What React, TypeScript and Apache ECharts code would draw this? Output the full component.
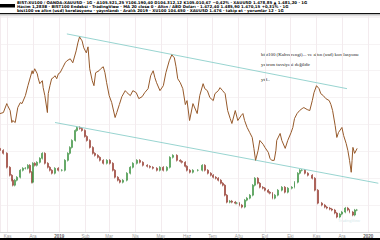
import React, { useEffect, useRef } from "react";
import * as echarts from "echarts";

// Day offsets from 2018-10-23 and values (arbitrary units)
const brownSeries: [number, number][] = [
  [0,119],[4,120],[8,129],[9,127],[12,122],[14,110],[15,112],[18,110],[21,125],[24,130],[26,129],[30,137],
  [33,147],[38,162],[39,159],[41,164],[44,159],[45,155],[47,149],[50,152],[51,145],[53,137],[56,120],[57,139],
  [59,147],[61,154],[63,155],[65,157],[67,154],[69,159],[71,160],[74,165],[77,170],[79,172],[83,174],[86,170],
  [90,182],[92,190],[94,196],[97,192],[99,185],[102,180],[104,186],[106,164],[109,152],[111,147],[113,160],
  [117,162],[119,164],[122,166],[124,160],[126,150],[129,137],[132,130],[136,115],[138,120],[141,128],[144,136],
  [148,142],[150,140],[154,137],[157,142],[161,140],[164,134],[168,136],[171,140],[175,144],[178,157],[181,162],
  [183,155],[185,150],[189,142],[193,147],[196,160],[200,172],[203,178],[206,175],[208,166],[210,154],[213,150],
  [216,144],[219,128],[221,132],[224,112],[228,129],[233,119],[236,137],[240,149],[242,144],[245,142],[248,135],
  [252,132],[254,139],[258,142],[260,145],[263,142],[266,139],[269,122],[272,114],[274,109],[278,122],[281,112],
  [285,117],[287,119],[289,112],[292,105],[295,100],[298,95],[300,84],[302,72],[305,82],[307,92],[311,88],
  [313,85],[317,80],[319,74],[321,72],[324,72],[326,82],[327,92],[331,99],[333,92],[337,84],[340,92],[344,100],
  [346,105],[348,114],[351,119],[354,122],[357,124],[359,125],[363,123],[366,122],[369,132],[371,140],[374,147],
  [377,144],[379,139],[382,137],[385,134],[389,132],[391,128],[393,122],[396,107],[398,95],[400,100],[404,105],
  [406,97],[409,89],[411,82],[413,72],[415,60],[416,72],[417,85],[419,79],[422,84]
];

// Lower series: [day, close]
const candleCloses: [number, number][] = [
  [0,82],[4,79],[8,65],[12,57],[14,52],[15,47],[18,52],[20,55],[24,62],[27,64],[30,64],[33,67],[35,60],[38,50],
  [39,69],[41,67],[44,70],[47,74],[50,79],[53,69],[57,65],[59,62],[61,59],[65,64],[69,62],[73,62],[77,72],[80,79],
  [83,85],[85,92],[89,102],[91,105],[94,104],[97,102],[100,96],[103,92],[106,85],[110,79],[112,77],[116,75],
  [118,72],[122,69],[126,72],[130,69],[133,62],[136,55],[139,52],[142,50],[145,52],[150,59],[154,65],[157,69],
  [162,72],[165,70],[169,67],[174,66],[177,65],[181,64],[185,62],[189,65],[193,62],[197,65],[201,75],[204,77],
  [209,72],[213,71],[215,70],[219,66],[221,62],[224,60],[228,62],[234,62],[239,67],[242,62],[246,59],[249,57],
  [252,55],[255,54],[258,52],[261,49],[263,47],[266,37],[268,30],[272,31],[274,30],[278,29],[280,29],[283,27],
  [286,25],[289,32],[292,34],[295,37],[299,47],[301,54],[305,49],[307,45],[311,44],[313,42],[317,40],[319,39],
  [322,34],[325,37],[328,42],[333,45],[337,40],[340,44],[345,45],[348,50],[352,59],[354,62],[357,62],[360,59],
  [364,57],[369,54],[372,42],[376,29],[380,27],[384,25],[386,24],[390,23],[392,22],[396,19],[398,15],[402,18],
  [404,20],[408,24],[411,22],[413,20],[417,17],[419,22],[422,22]
];

const upperTrend: [number, number][] = [[79, 199], [410, 144]];
const lowerTrend: [number, number][] = [[65, 110], [447, 49]];

const trMonths = ["Oca", "Şub", "Mar", "Nis", "May", "Haz", "Tem", "Ağu", "Eyl", "Eki", "Kas", "Ara"];

const noteLines = [
  "bist100 (Kahverengi)... ve altın (usd) korelasyonu",
  "yatırım tavsiyesi değildir",
  "ytd..",
];

const headerLines = [
  "BIST:XU100 / OANDA:XAUUSD · 1G · A105.521,25 Y106.190,40 D104.312,12 K105.010,67 −0,42% · XAUUSD 1.478,85 ▲ 1.481,20 · 1G",
  "Hacim 1,283B · BIST100 Endeksi · TradingView · MA 20 close 0 · Altın / ABD Doları · 1.472,40 1.485,90 1.470,15 +0,31% · 1G",
  "bist100 ve altın (usd) korelasyonu · yayınlandı · Aralık 2019 · XU100 104.650 · XAUUSD 1.476 · takip et · yorumlar 12 · 1G",
];

const START = new Date(2018, 9, 23).getTime();
const DAY = 86400000;
const SPAN_DAYS = 449;

export default function App() {
  const ref = useRef<HTMLDivElement>(null);

  useEffect(() => {
    if (!ref.current) return;
    const chart = echarts.init(ref.current, null, { renderer: "svg" });

    const toT = (d: number) => START + d * DAY;

    const candles = candleCloses.map(([d, c], i) => {
      const o = i === 0 ? c + 2 : candleCloses[i - 1][1];
      const lo = Math.min(o, c) - 1.2;
      const hi = Math.max(o, c) + 1.2;
      return [toT(d), o, c, lo, hi];
    });

    const option: any = {
      animation: false,
      backgroundColor: "#ffffff",
      grid: { left: 0, right: 0, top: 16, bottom: 8 },
      xAxis: {
        type: "time",
        min: START,
        max: toT(SPAN_DAYS),
        splitNumber: 15,
        axisLine: { show: true, lineStyle: { color: "#d4d4d4", width: 1 } },
        axisTick: { show: false },
        axisLabel: {
          fontSize: 4.5,
          color: "#9a9a9a",
          margin: 2,
          showMinLabel: false,
          showMaxLabel: false,
          hideOverlap: false,
          fontFamily: "Liberation Sans",
          formatter: (v: number) => {
            const d = new Date(v);
            if (d.getMonth() === 0) return "{y|" + d.getFullYear() + "}";
            return trMonths[d.getMonth()];
          },
          rich: { y: { fontSize: 4.5, fontWeight: "bold", color: "#666" } },
        },
        splitLine: { show: true, lineStyle: { color: "#f3ebee", width: 1 } },
      },
      yAxis: {
        type: "value",
        min: 0,
        max: 217,
        interval: 27,
        axisLabel: { show: false },
        axisLine: { show: false },
        axisTick: { show: false },
        splitLine: { show: true, lineStyle: { color: "#f6f3f4", width: 1 } },
      },
      series: [
        {
          type: "line",
          data: upperTrend.map(([d, v]) => [toT(d), v]),
          symbol: "none",
          lineStyle: { color: "#8ccfcb", width: 0.9 },
          silent: true,
        },
        {
          type: "line",
          data: lowerTrend.map(([d, v]) => [toT(d), v]),
          symbol: "none",
          lineStyle: { color: "#8ccfcb", width: 0.9 },
          silent: true,
        },
        {
          type: "line",
          data: brownSeries.map(([d, v]) => [toT(d), v]),
          symbol: "none",
          lineStyle: { color: "#96592a", width: 1 },
        },
        {
          type: "candlestick",
          data: candles,
          barWidth: 1.4,
          itemStyle: {
            color: "#4caf50",
            color0: "#b5473a",
            borderColor: "#3b8b3f",
            borderColor0: "#8f3a2f",
            borderWidth: 0.6,
          },
        },
      ],
      graphic: [
        { type: "rect", shape: { x: 0, y: 0, width: 380, height: 15 }, style: { fill: "#ffffff" } },
        ...headerLines.map((t, i) => ({
          type: "text",
          x: 17,
          y: 0.2 + i * 4.3,
          style: {
            text: t,
            fontSize: 3.9,
            fontWeight: "bold",
            fontFamily: "DejaVu Sans",
            fill: "#000000",
            textVerticalAlign: "top",
          },
        })),
        { type: "rect", shape: { x: 0, y: 4, width: 15, height: 3.5 }, style: { fill: "#000000" } },
        { type: "rect", shape: { x: 0, y: 13, width: 380, height: 1.3 }, style: { fill: "#111111" } },
        { type: "rect", shape: { x: 0, y: 14.6, width: 380, height: 0.8 }, style: { fill: "#bdbdbd" } },
        ...noteLines.map((t, i) => ({
          type: "text",
          x: 261,
          y: [52, 62, 77][i],
          style: {
            text: t,
            fontSize: 4.9,
            fontFamily: "Liberation Serif",
            fill: "#222222",
            textVerticalAlign: "top",
          },
        })),
        {
          type: "text",
          x: 338,
          y: 218,
          style: { text: "TradingView", fontSize: 4, fill: "#d5e9ea", fontFamily: "Liberation Sans" },
        },
        { type: "rect", shape: { x: 0, y: 238, width: 380, height: 2 }, style: { fill: "#000000" } },
      ],
    };

    chart.setOption(option);
    return () => chart.dispose();
  }, []);

  return (
    <div
      ref={ref}
      style={{ position: "fixed", left: 0, top: 0, width: 380, height: 240 }}
    />
  );
}
